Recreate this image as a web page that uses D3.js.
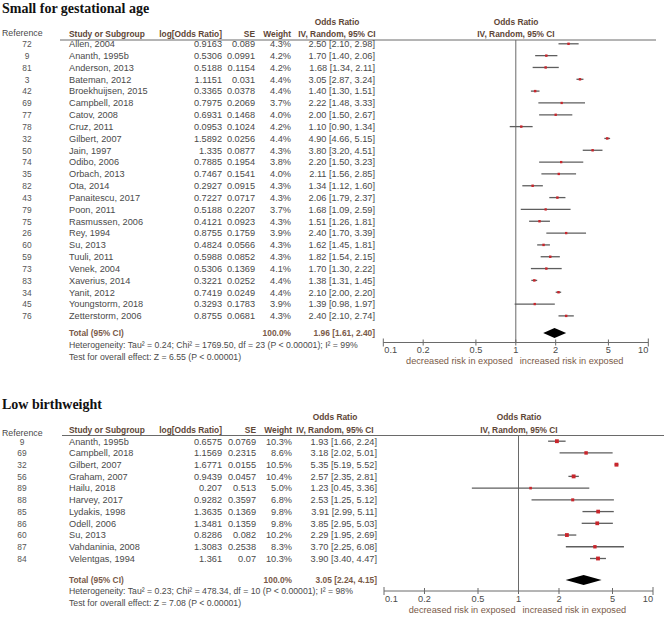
<!DOCTYPE html>
<html>
<head>
<meta charset="utf-8">
<script src="https://cdn.jsdelivr.net/npm/d3@7"></script>
<style>
  html, body { margin: 0; padding: 0; background: #fff; }
  svg { display: block; }
  text { font-family: "Liberation Sans", Arial, sans-serif; }
</style>
</head>
<body>
<svg id="chart" width="666" height="618"></svg>
<script>
// ---------- DATA: Small for gestational age ----------
const sgaRefs = [72, 9, 81, 3, 42, 69, 77, 78, 32, 50, 74, 35, 82, 43, 79, 75, 26, 60, 59, 73, 83, 34, 45, 76];
const sgaStudies = ["Allen, 2004", "Ananth, 1995b", "Anderson, 2013", "Bateman, 2012", "Broekhuijsen, 2015",
  "Campbell, 2018", "Catov, 2008", "Cruz, 2011", "Gilbert, 2007", "Jain, 1997", "Odibo, 2006", "Orbach, 2013",
  "Ota, 2014", "Panaitescu, 2017", "Poon, 2011", "Rasmussen, 2006", "Rey, 1994", "Su, 2013", "Tuuli, 2011",
  "Venek, 2004", "Xaverius, 2014", "Yanit, 2012", "Youngstorm, 2018", "Zetterstorm, 2006"];
const sgaLogOR = ["0.9163", "0.5306", "0.5188", "1.1151", "0.3365", "0.7975", "0.6931", "0.0953", "1.5892", "1.335",
  "0.7885", "0.7467", "0.2927", "0.7227", "0.5188", "0.4121", "0.8755", "0.4824", "0.5988", "0.5306", "0.3221",
  "0.7419", "0.3293", "0.8755"];
const sgaSE = ["0.089", "0.0991", "0.1154", "0.031", "0.0378", "0.2069", "0.1468", "0.1024", "0.0256", "0.0877",
  "0.1954", "0.1541", "0.0915", "0.0717", "0.2207", "0.0923", "0.1759", "0.0566", "0.0852", "0.1369", "0.0252",
  "0.0249", "0.1783", "0.0681"];
const sgaWeight = [4.3, 4.2, 4.2, 4.4, 4.4, 3.7, 4.0, 4.2, 4.4, 4.3, 3.8, 4.0, 4.3, 4.3, 3.7, 4.3, 3.9, 4.3, 4.3, 4.1, 4.4, 4.4, 3.9, 4.3];
const sgaOR = [2.50, 1.70, 1.68, 3.05, 1.40, 2.22, 2.00, 1.10, 4.90, 3.80, 2.20, 2.11, 1.34, 2.06, 1.68, 1.51, 2.40, 1.62, 1.82, 1.70, 1.38, 2.10, 1.39, 2.40];
const sgaLower = [2.10, 1.40, 1.34, 2.87, 1.30, 1.48, 1.50, 0.90, 4.66, 3.20, 1.50, 1.56, 1.12, 1.79, 1.09, 1.26, 1.70, 1.45, 1.54, 1.30, 1.31, 2.00, 0.98, 2.10];
const sgaUpper = [2.98, 2.06, 2.11, 3.24, 1.51, 3.33, 2.67, 1.34, 5.15, 4.51, 3.23, 2.85, 1.60, 2.37, 2.59, 1.81, 3.39, 1.81, 2.15, 2.22, 1.45, 2.20, 1.97, 2.74];
const sgaTotal = { or: 1.96, lower: 1.61, upper: 2.40 };
const sgaHet = "Heterogeneity: Tau\u00B2 = 0.24; Chi\u00B2 = 1769.50, df = 23 (P < 0.00001); I\u00B2 = 99%";
const sgaTest = "Test for overall effect: Z = 6.55 (P < 0.00001)";

// ---------- DATA: Low birthweight ----------
const lbwRefs = [9, 69, 32, 56, 89, 88, 85, 86, 60, 87, 84];
const lbwStudies = ["Ananth, 1995b", "Campbell, 2018", "Gilbert, 2007", "Graham, 2007", "Hailu, 2018", "Harvey, 2017",
  "Lydakis, 1998", "Odell, 2006", "Su, 2013", "Vahdaninia, 2008", "Velentgas, 1994"];
const lbwLogOR = ["0.6575", "1.1569", "1.6771", "0.9439", "0.207", "0.9282", "1.3635", "1.3481", "0.8286", "1.3083", "1.361"];
const lbwSE = ["0.0769", "0.2315", "0.0155", "0.0457", "0.513", "0.3597", "0.1369", "0.1359", "0.082", "0.2538", "0.07"];
const lbwWeight = [10.3, 8.6, 10.5, 10.4, 5.0, 6.8, 9.8, 9.8, 10.2, 8.3, 10.3];
const lbwOR = [1.93, 3.18, 5.35, 2.57, 1.23, 2.53, 3.91, 3.85, 2.29, 3.70, 3.90];
const lbwLower = [1.66, 2.02, 5.19, 2.35, 0.45, 1.25, 2.99, 2.95, 1.95, 2.25, 3.40];
const lbwUpper = [2.24, 5.01, 5.52, 2.81, 3.36, 5.12, 5.11, 5.03, 2.69, 6.08, 4.47];
const lbwTotal = { or: 3.05, lower: 2.24, upper: 4.15 };
const lbwHet = "Heterogeneity: Tau\u00B2 = 0.23; Chi\u00B2 = 478.34, df = 10 (P < 0.00001); I\u00B2 = 98%";
const lbwTest = "Test for overall effect: Z = 7.08 (P < 0.00001)";

// ---------- Axis ----------
const axisTicks = [0.1, 0.2, 0.5, 1, 2, 5, 10];
const axisTickLabels = ["0.1", "0.2", "0.5", "1", "2", "5", "10"];

const fmt2 = d3.format(".2f");
const svg = d3.select("#chart");

const cHead = "#5e4636";
const cBody = "#4a4a4a";
const cBrown = "#7a5a48";
const cLine = "#6a6a6a";

function panel(cfg, d) {
  const g = svg.append("g");
  const n = d.studies.length;
  const x = d3.scaleLog().domain([0.1, 10]).range([cfg.x0, cfg.x1]);
  const rowY = i => cfg.row0 + i * cfg.rowH;
  const size = d3.scaleLinear().domain([3.7, 10.5]).range([2.3, 3.9]).clamp(true);

  // Title
  g.append("text").attr("x", 2).attr("y", cfg.titleY)
    .style("font-family", "'Liberation Serif', 'Times New Roman', serif")
    .style("font-weight", "bold").style("font-size", "14px").attr("fill", "#111")
    .text(cfg.title);

  // Header
  const hfs = "8.4px";
  const hdr = (tx, ty, txt, anchor) => g.append("text").attr("x", tx).attr("y", ty)
    .attr("text-anchor", anchor).style("font-size", hfs).style("font-weight", "bold")
    .attr("fill", cHead).text(txt);
  hdr(cfg.orColC, cfg.h1Y, "Odds Ratio", "middle");
  hdr(cfg.xMid, cfg.h1Y, "Odds Ratio", "middle");
  hdr(69, cfg.h2Y, "Study or Subgroup", "start");
  hdr(222, cfg.h2Y, "log[Odds Ratio]", "end");
  hdr(cfg.seR, cfg.h2Y, "SE", "end");
  hdr(cfg.wR, cfg.h2Y, "Weight", "end");
  hdr(cfg.orColC, cfg.h2Y, "IV, Random, 95% CI", "middle");
  hdr(cfg.xMid, cfg.h2Y, "IV, Random, 95% CI", "middle");
  g.append("text").attr("x", 2).attr("y", cfg.refLabY).style("font-size", "8.8px")
    .attr("fill", cBody).text("Reference");

  g.append("line").attr("x1", cfg.lineL).attr("x2", cfg.lineR)
    .attr("y1", cfg.hLineY).attr("y2", cfg.hLineY).attr("stroke", cLine).attr("stroke-width", 1);

  // Rows
  const fs = "9.2px";
  for (let i = 0; i < n; i++) {
    const yb = rowY(i) + 3.3;
    const t = (tx, txt, anchor, col, f) => g.append("text").attr("x", tx).attr("y", yb)
      .attr("text-anchor", anchor).style("font-size", f || fs).attr("fill", col || cBody).text(txt);
    t(cfg.refC, d.refs[i], "middle", "#555", "8.4px");
    t(69, d.studies[i], "start");
    t(222, d.logor[i], "end");
    t(cfg.seR, d.se[i], "end");
    t(cfg.wR, d.weight[i].toFixed(1) + "%", "end");
    t(cfg.orR, fmt2(d.or[i]) + " [" + fmt2(d.lower[i]) + ", " + fmt2(d.upper[i]) + "]", "end");
  }

  // Vertical line at 1
  g.append("line").attr("x1", x(1)).attr("x2", x(1))
    .attr("y1", cfg.hLineY).attr("y2", cfg.axisY).attr("stroke", cLine).attr("stroke-width", 1);

  // CI lines and squares
  for (let i = 0; i < n; i++) {
    const y = rowY(i);
    g.append("line").attr("x1", x(d.lower[i])).attr("x2", x(d.upper[i]))
      .attr("y1", y).attr("y2", y).attr("stroke", "#5e5e5e").attr("stroke-width", 1.3);
    const s = size(d.weight[i]);
    g.append("rect").attr("x", x(d.or[i]) - s / 2).attr("y", y - s / 2)
      .attr("width", s).attr("height", s).attr("fill", "#c8262c");
  }

  // Total row
  const ty = cfg.totalY;
  const tb = ty + 3.2;
  g.append("text").attr("x", 69).attr("y", tb).style("font-size", hfs).style("font-weight", "bold")
    .attr("fill", cBrown).text("Total (95% CI)");
  g.append("text").attr("x", cfg.wR).attr("y", tb).attr("text-anchor", "end").style("font-size", hfs)
    .style("font-weight", "bold").attr("fill", cBrown).text("100.0%");
  g.append("text").attr("x", cfg.orR).attr("y", tb).attr("text-anchor", "end").style("font-size", hfs)
    .style("font-weight", "bold").attr("fill", cBrown)
    .text(fmt2(d.total.or) + " [" + fmt2(d.total.lower) + ", " + fmt2(d.total.upper) + "]");
  const dh = 5;
  g.append("path").attr("d", `M${x(d.total.lower)},${ty} L${x(d.total.or)},${ty - dh} L${x(d.total.upper)},${ty} L${x(d.total.or)},${ty + dh} Z`)
    .attr("fill", "#000");

  // Heterogeneity
  g.append("text").attr("x", 69).attr("y", cfg.hetY + 3.2).style("font-size", "8.7px")
    .attr("fill", cBody).text(d.het);
  g.append("text").attr("x", 69).attr("y", cfg.testY + 3.2).style("font-size", "8.7px")
    .attr("fill", cBody).text(d.test);

  // Axis
  const ax = g.append("g").attr("transform", `translate(0,${cfg.axisY})`);
  ax.append("line").attr("x1", x(0.1)).attr("x2", x(10)).attr("y1", 0).attr("y2", 0)
    .attr("stroke", cLine).attr("stroke-width", 1);
  axisTicks.forEach((v, k) => {
    const ext = (k === 0 || k === axisTicks.length - 1) ? 4 : 3;
    ax.append("line").attr("x1", x(v)).attr("x2", x(v)).attr("y1", -ext).attr("y2", ext)
      .attr("stroke", cLine).attr("stroke-width", 1);
    const anchor = k === 0 ? "start" : (k === axisTicks.length - 1 ? "end" : "middle");
    ax.append("text").attr("x", x(v) + (k === 0 ? 1 : 0)).attr("y", 10.5).attr("text-anchor", anchor)
      .style("font-size", "9.2px").attr("fill", cBody).text(axisTickLabels[k]);
  });
  g.append("text").attr("x", x(1) - 3).attr("y", cfg.axisY + 21.5).attr("text-anchor", "end")
    .style("font-size", "9.2px").attr("fill", cBrown).text("decreased risk in exposed");
  g.append("text").attr("x", x(1) + 4).attr("y", cfg.axisY + 21.5).attr("text-anchor", "start")
    .style("font-size", "9.2px").attr("fill", cBrown).text("increased risk in exposed");
}

panel({
  title: "Small for gestational age", titleY: 13,
  x0: 383.3, x1: 648.3, xMid: 516,
  h1Y: 25, h2Y: 36.5, refLabY: 36, hLineY: 40, lineL: 60, lineR: 656,
  row0: 43.8, rowH: 11.83, refC: 27, seR: 255, wR: 291, orR: 375, orColC: 337,
  totalY: 333, hetY: 345, testY: 357, axisY: 342.5
}, {
  refs: sgaRefs, studies: sgaStudies, logor: sgaLogOR, se: sgaSE, weight: sgaWeight,
  or: sgaOR, lower: sgaLower, upper: sgaUpper, total: sgaTotal, het: sgaHet, test: sgaTest
});

panel({
  title: "Low birthweight", titleY: 408.5,
  x0: 384, x1: 653, xMid: 519,
  h1Y: 420, h2Y: 433, refLabY: 435.5, hLineY: 435.5, lineL: 62, lineR: 664,
  row0: 441.2, rowH: 11.73, refC: 22, seR: 256, wR: 292, orR: 377, orColC: 335,
  totalY: 580, hetY: 591, testY: 603, axisY: 591
}, {
  refs: lbwRefs, studies: lbwStudies, logor: lbwLogOR, se: lbwSE, weight: lbwWeight,
  or: lbwOR, lower: lbwLower, upper: lbwUpper, total: lbwTotal, het: lbwHet, test: lbwTest
});
</script>
</body>
</html>
